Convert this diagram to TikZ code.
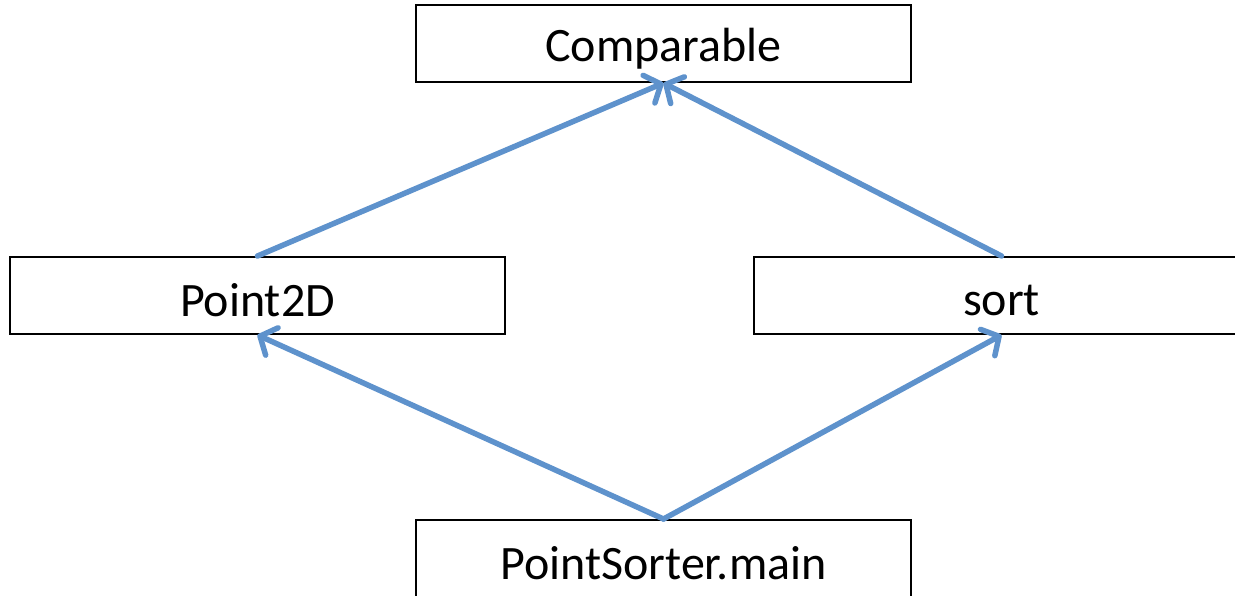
\documentclass[tikz,border=0pt]{standalone}
\usepackage{fontspec}
\setmainfont{Carlito}
\usetikzlibrary{arrows.meta}
\definecolor{arrowblue}{RGB}{94,146,204}
\newcommand{\lowertxt}[1]{\raisebox{-5pt}[\height][\depth]{#1}}
\tikzset{
  box/.style={draw=black, line width=2pt, minimum width=495pt, minimum height=77pt, inner sep=0pt, font=\fontsize{48}{52}\selectfont, fill=white},
  link/.style={draw=arrowblue, line width=5.5pt, line cap=round, -{Straight Barb[length=13pt,width=30pt,line cap=round,round]}}
}
\begin{document}
\begin{tikzpicture}[x=1pt,y=-1pt]
\useasboundingbox (0,0) rectangle (1235,596);
\clip (0,0) rectangle (1235,596);
\node[box] (cmp) at (663.5,43.5) {\lowertxt{Comparable}};
\node[box] (pt) at (257.5,295.5) {\lowertxt{Point2D}};
\node[box] (srt) at (1001.5,295.5) {\lowertxt{sort}};
\node[box] (ps) at (663.5,558.5) {\lowertxt{PointSorter.main}};
\draw[link] (pt.north) -- (cmp.south);
\draw[link] (srt.north) -- (cmp.south);
\draw[link] (ps.north) -- (pt.south);
\draw[link] (ps.north) -- (srt.south);
\end{tikzpicture}
\end{document}
